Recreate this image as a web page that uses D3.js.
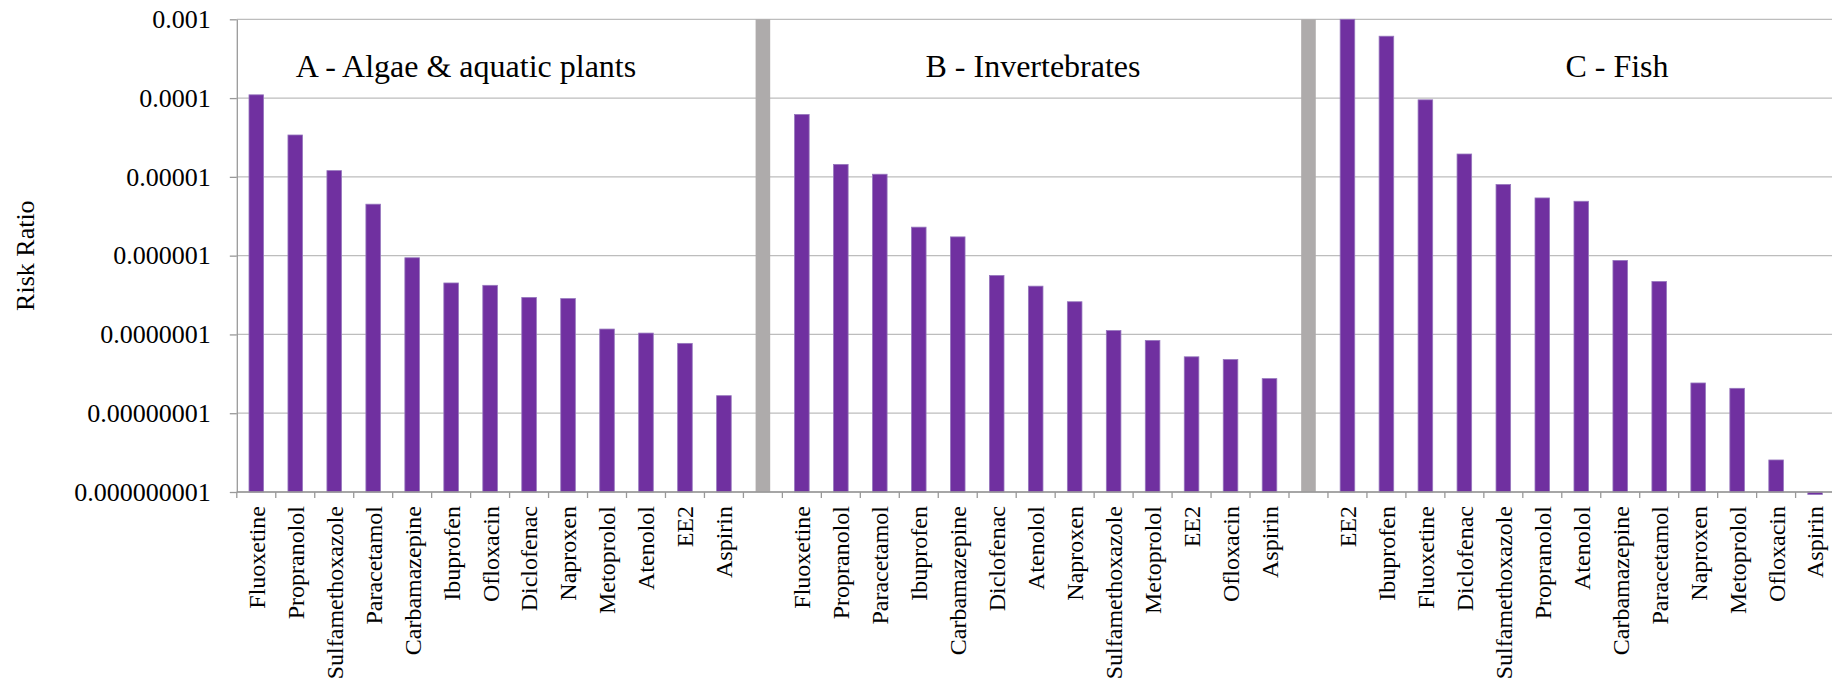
<!DOCTYPE html>
<html>
<head>
<meta charset="utf-8">
<script src="https://cdn.jsdelivr.net/npm/d3@7"></script>
<style>
  html, body { margin: 0; padding: 0; background: #ffffff; }
  svg { display: block; }
  text { font-family: "Liberation Serif", "Times New Roman", Times, serif; fill: #000; }
</style>
</head>
<body>
<svg id="chart" width="1832" height="684"></svg>
<script>
// Panel A – algae & aquatic plants
const algaeTitle = "A - Algae & aquatic plants";
const algaeDrugs = ["Fluoxetine", "Propranolol", "Sulfamethoxazole", "Paracetamol", "Carbamazepine",
  "Ibuprofen", "Ofloxacin", "Diclofenac", "Naproxen", "Metoprolol", "Atenolol", "EE2", "Aspirin"];
const algaeRisk = [1.1e-4, 3.4e-5, 1.2e-5, 4.5e-6, 9.4e-7, 4.5e-7, 4.2e-7, 2.95e-7, 2.85e-7,
  1.17e-7, 1.04e-7, 7.7e-8, 1.67e-8];

// Panel B – invertebrates
const invertTitle = "B - Invertebrates";
const invertDrugs = ["Fluoxetine", "Propranolol", "Paracetamol", "Ibuprofen", "Carbamazepine",
  "Diclofenac", "Atenolol", "Naproxen", "Sulfamethoxazole", "Metoprolol", "EE2", "Ofloxacin", "Aspirin"];
const invertRisk = [6.2e-5, 1.44e-5, 1.08e-5, 2.3e-6, 1.73e-6, 5.6e-7, 4.1e-7, 2.6e-7, 1.12e-7,
  8.4e-8, 5.2e-8, 4.8e-8, 2.75e-8];

// Panel C – fish
const fishTitle = "C - Fish";
const fishDrugs = ["EE2", "Ibuprofen", "Fluoxetine", "Diclofenac", "Sulfamethoxazole", "Propranolol",
  "Atenolol", "Carbamazepine", "Paracetamol", "Naproxen", "Metoprolol", "Ofloxacin", "Aspirin"];
const fishRisk = [1.0e-3, 6.1e-4, 9.5e-5, 1.95e-5, 8.0e-6, 5.4e-6, 4.9e-6, 8.7e-7, 4.7e-7,
  2.42e-8, 2.07e-8, 2.55e-9, 9.3e-10];

// Log axis: one tick per decade
const yTicks = [1e-9, 1e-8, 1e-7, 1e-6, 1e-5, 1e-4, 1e-3];
const yTickLabels = ["0.000000001", "0.00000001", "0.0000001", "0.000001", "0.00001", "0.0001", "0.001"];
const yAxisTitle = "Risk Ratio";

// Full-height grey divider bars between the panels
const dividerRisk = 1e-3;

// ---- assemble the category sequence ----
const rows = [];
const panels = [
  { title: algaeTitle, drugs: algaeDrugs, risk: algaeRisk },
  { title: invertTitle, drugs: invertDrugs, risk: invertRisk },
  { title: fishTitle, drugs: fishDrugs, risk: fishRisk }
];
panels.forEach((p, pi) => {
  p.start = rows.length;
  p.drugs.forEach((d, i) => rows.push({ label: d, value: p.risk[i], divider: false }));
  p.end = rows.length;
  if (pi < panels.length - 1) rows.push({ label: "", value: dividerRisk, divider: true });
});

// ---- layout ----
const W = 1832, H = 684;
const plotLeft = 236.8, plotTop = 19.3, plotBottom = 492;
const step = 38.97;
const plotRight = plotLeft + step * rows.length;

const svg = d3.select("#chart");
svg.append("rect").attr("width", W).attr("height", H).attr("fill", "#fff");

const x = d3.scaleBand()
  .domain(d3.range(rows.length))
  .range([plotLeft, plotRight])
  .paddingInner(0.6)
  .paddingOuter(0.3);

const y = d3.scaleLog()
  .domain([1e-9, 1e-3])
  .range([plotBottom, plotTop]);

// horizontal gridlines
svg.append("g")
  .selectAll("line")
  .data(yTicks)
  .join("line")
  .attr("x1", plotLeft).attr("x2", W + 10)
  .attr("y1", d => y(d)).attr("y2", d => y(d))
  .attr("stroke", "#bdbdbd")
  .attr("stroke-width", 1.3);

// bars (values below the axis origin hang downward from it)
const base = y.domain()[0];
svg.append("g")
  .selectAll("rect")
  .data(rows)
  .join("rect")
  .attr("x", (d, i) => x(i) + 0.5)
  .attr("width", x.bandwidth() - 1)
  .attr("y", d => Math.min(y(d.value), y(base)))
  .attr("height", d => Math.abs(y(base) - y(d.value)))
  .attr("fill", d => d.divider ? "#aeabab" : "#7030a0")
  .attr("stroke", d => d.divider ? "none" : "#9677bd")
  .attr("stroke-width", 0.8);

// y axis
const yAxis = d3.axisLeft(y)
  .tickValues(yTicks)
  .tickFormat((d, i) => yTickLabels[i])
  .tickSize(7)
  .tickPadding(19)
  .tickSizeOuter(0);
const gy = svg.append("g")
  .attr("transform", `translate(${plotLeft},0)`)
  .call(yAxis);
gy.select(".domain").attr("stroke", "#999").attr("stroke-width", 1.3);
gy.selectAll(".tick line").attr("stroke", "#999").attr("stroke-width", 1.3);
gy.selectAll(".tick text")
  .attr("font-size", 26)
  .attr("font-family", "Liberation Serif, Times New Roman, serif")
  .attr("fill", "#000");

// x axis line and boundary ticks
svg.append("line")
  .attr("x1", plotLeft).attr("x2", W + 10)
  .attr("y1", plotBottom).attr("y2", plotBottom)
  .attr("stroke", "#999").attr("stroke-width", 1.3);

const boundaries = d3.range(rows.length + 1).map(i => plotLeft + i * x.step());
svg.append("g")
  .selectAll("line")
  .data(boundaries)
  .join("line")
  .attr("x1", d => d).attr("x2", d => d)
  .attr("y1", plotBottom).attr("y2", plotBottom + 6)
  .attr("stroke", "#999").attr("stroke-width", 1.3);

// category labels, rotated
svg.append("g")
  .selectAll("text")
  .data(rows)
  .join("text")
  .attr("transform", (d, i) => `translate(${x(i) + x.bandwidth() / 2},506) rotate(-90)`)
  .attr("text-anchor", "end")
  .attr("dy", "0.35em")
  .attr("font-size", 24)
  .text(d => d.label);

// panel titles
const titleX = [466, 1033, 1617];
svg.append("g")
  .selectAll("text")
  .data(panels)
  .join("text")
  .attr("x", (d, i) => titleX[i])
  .attr("y", 77)
  .attr("text-anchor", "middle")
  .attr("font-size", 32)
  .text(d => d.title);

// y axis title
svg.append("text")
  .attr("transform", `translate(25,${(plotTop + plotBottom) / 2}) rotate(-90)`)
  .attr("text-anchor", "middle")
  .attr("dy", "0.35em")
  .attr("font-size", 26)
  .text(yAxisTitle);
</script>
</body>
</html>
